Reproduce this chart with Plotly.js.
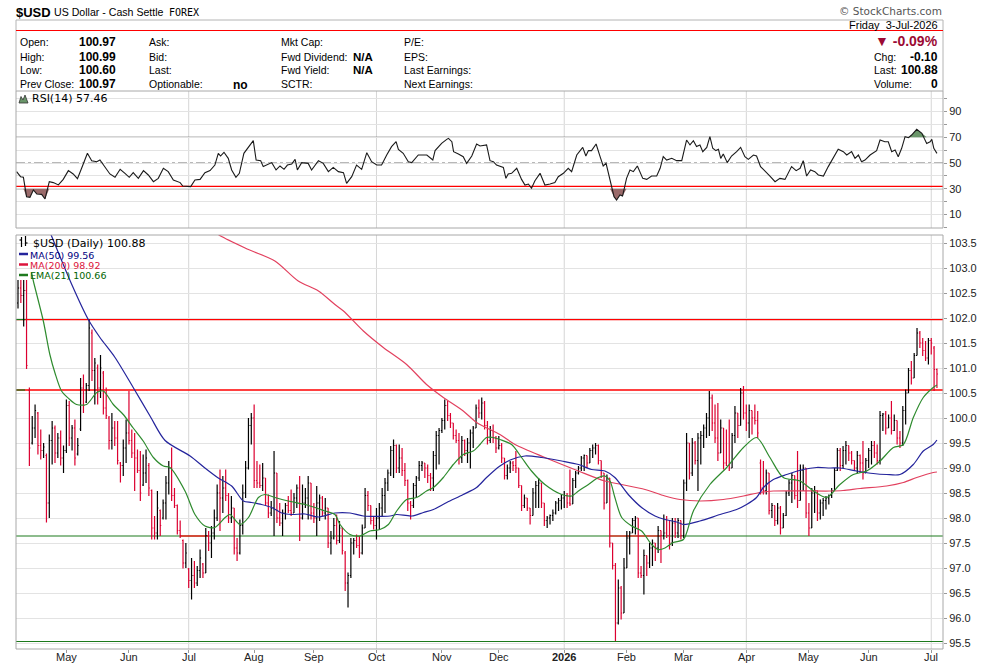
<!DOCTYPE html>
<html><head><meta charset="utf-8">
<script src="https://cdn.plot.ly/plotly-3.0.1.min.js"></script>
<style>html,body{margin:0;padding:0;background:#fff;}#chart{width:990px;height:664px;}</style>
</head><body><div id="chart"></div>
<script>
// ---------------- DATA ----------------
const firstDate = '2025-04-08';   // first trading day shown (weekdays only)
const symbol = '$USD';
const opens = [
102.30,102.60,102.45,102.55,100.55,99.50,99.80,100.10,99.45,99.35,
99.25,98.30,99.55,99.80,99.30,99.60,99.20,99.35,100.25,99.60,
99.80,99.28,99.78,100.60,100.32,100.65,101.70,100.95,101.00,100.60,
100.90,100.20,100.00,99.55,99.80,99.60,99.10,99.05,99.40,99.70,
99.55,99.30,99.20,98.95,98.66,98.90,99.05,98.55,97.80,97.70,
98.15,98.00,98.30,98.70,99.00,98.45,98.25,97.75,97.55,97.10,
96.98,96.75,96.85,96.70,96.95,97.08,96.90,97.65,97.50,97.70,
98.00,98.50,98.40,98.60,98.45,98.00,98.20,97.40,97.30,97.85,
98.50,99.00,99.85,100.00,98.75,98.70,98.65,98.80,98.30,98.10,
98.20,98.90,98.00,97.90,98.10,98.25,98.15,98.10,98.40,98.60,
98.00,98.30,98.40,98.70,98.10,98.00,98.30,98.40,98.10,98.20,
97.50,97.60,97.85,97.55,97.80,97.30,96.70,96.85,97.50,97.55,
97.45,97.30,97.80,98.45,98.25,97.95,97.85,98.00,98.20,98.45,
98.70,98.90,99.35,99.45,99.00,99.20,98.95,98.75,98.30,98.25,
98.65,98.80,99.05,99.10,99.00,98.85,98.80,99.25,99.65,99.75,
99.95,100.25,100.05,99.90,99.65,99.55,99.20,99.55,99.35,99.50,
99.70,99.80,100.20,100.10,100.30,99.85,99.55,99.75,99.60,99.40,
99.45,99.20,98.85,99.00,99.10,99.05,99.00,98.65,98.25,98.40,
98.20,98.05,98.50,98.65,98.70,98.30,97.95,98.00,98.05,98.10,
98.30,98.35,98.40,98.45,98.30,98.28,98.75,98.90,99.00,99.20,
99.25,99.10,99.35,99.40,99.45,99.15,98.90,98.30,98.80,97.50,
97.05,95.90,96.60,96.10,97.00,97.60,97.70,97.95,98.00,96.90,
96.85,97.25,97.10,97.40,97.50,97.40,97.75,97.65,97.70,97.65,
97.50,97.90,97.70,97.95,97.65,98.70,99.50,98.90,99.50,99.15,
99.60,99.65,99.80,100.00,100.40,99.90,99.60,99.30,99.80,99.10,
99.05,99.00,99.65,100.10,99.85,100.50,100.10,99.90,100.15,100.00,
99.95,99.10,98.60,98.55,98.90,98.15,98.25,97.95,98.20,97.80,
98.05,98.50,98.70,98.85,98.45,98.35,98.95,99.00,98.10,97.80,
98.50,98.55,98.10,98.30,98.35,98.40,98.45,98.55,98.95,99.35,
99.05,99.35,99.45,99.30,99.15,99.00,99.25,99.10,98.90,99.15,
99.35,99.45,99.30,99.15,100.05,100.08,99.80,100.00,99.75,99.95,
99.60,99.50,100.15,100.50,100.95,100.80,101.25,101.70,101.50,101.35,
101.20,101.55,101.40,100.97];
const highs = [
102.76,102.76,102.76,102.76,100.61,100.04,100.27,100.12,99.77,99.50,
99.29,99.67,99.94,99.85,99.70,99.75,99.45,100.37,100.34,99.86,
99.97,99.60,100.80,100.87,100.70,101.97,101.77,101.20,101.07,101.26,
100.94,100.61,100.04,100.10,99.94,99.94,99.12,99.57,99.97,100.54,
99.77,99.70,99.37,99.34,99.27,99.37,99.10,98.57,98.04,98.54,
98.17,98.37,98.84,99.14,99.41,98.60,98.27,97.95,97.57,97.50,
97.00,97.20,97.14,97.04,97.37,97.10,97.80,97.74,97.84,98.17,
98.67,98.97,98.84,98.97,98.50,98.44,98.20,97.60,97.97,98.67,
99.14,100.00,100.10,100.27,99.14,99.07,99.10,98.80,98.47,98.34,
99.34,98.90,98.30,98.17,98.30,98.44,98.57,98.50,98.67,98.84,
98.67,98.60,98.84,98.70,98.30,98.64,98.47,98.44,98.40,98.20,
97.74,98.00,98.07,97.94,97.80,97.34,96.91,97.60,97.60,97.67,
97.64,97.87,98.60,98.54,98.25,98.04,98.20,98.30,98.60,98.80,
98.97,99.44,99.57,99.47,99.47,99.40,99.10,98.77,98.34,98.70,
98.84,99.14,99.14,99.10,99.07,98.90,99.34,99.74,99.80,100.00,
100.37,100.34,100.10,99.90,99.77,99.70,99.64,99.57,99.60,99.77,
99.84,100.27,100.37,100.41,100.34,99.94,99.84,99.87,99.64,99.64,
99.50,99.20,99.07,99.14,99.14,99.34,99.00,98.65,98.47,98.40,
98.20,98.60,98.74,98.80,98.70,98.30,98.04,98.07,98.17,98.34,
98.40,98.47,98.54,98.50,98.97,98.80,98.94,99.04,99.24,99.27,
99.25,99.40,99.47,99.50,99.47,99.15,98.90,98.87,98.80,97.50,
97.10,96.77,96.64,97.20,97.74,97.74,98.00,98.04,98.00,97.04,
97.37,97.25,97.50,97.57,97.50,97.84,97.75,98.07,98.04,97.94,
98.00,98.00,98.00,97.95,98.77,99.70,99.50,99.60,99.54,99.70,
99.74,99.87,100.10,100.54,100.47,100.27,100.30,99.97,99.80,99.77,
99.97,99.70,100.24,100.10,100.60,100.64,100.27,100.27,100.15,100.27,
100.14,99.17,99.14,98.97,98.90,98.30,98.25,98.30,98.24,98.10,
98.54,98.77,98.90,98.85,99.34,99.07,99.07,99.00,98.30,98.60,
98.64,98.55,98.37,98.40,98.44,98.47,98.60,99.00,99.40,99.40,
99.44,99.54,99.45,99.34,99.15,99.34,99.27,99.54,99.20,99.40,
99.54,99.54,99.47,100.14,100.10,100.14,100.07,100.34,100.07,99.95,
99.74,100.24,100.57,101.00,101.14,101.30,101.80,101.74,101.60,101.54,
101.60,101.60,101.44,100.99];
const lows = [
102.19,102.30,101.83,100.98,99.04,99.47,99.60,99.27,99.17,99.20,
97.91,98.00,99.07,99.10,99.20,99.05,98.90,99.30,99.44,99.35,
99.05,99.25,99.74,100.10,100.30,100.54,100.74,100.27,100.27,100.40,
100.07,99.98,99.37,99.37,99.44,99.07,98.71,98.84,99.10,99.47,
99.20,98.54,98.90,98.34,98.64,98.70,98.44,97.57,97.57,97.57,
97.64,97.97,97.97,98.47,98.34,98.20,97.67,97.60,96.99,97.00,
96.60,96.37,96.60,96.64,96.80,96.80,96.90,97.34,97.20,97.57,
97.94,97.74,98.10,98.34,97.90,97.90,97.27,97.14,97.27,97.67,
98.40,98.97,99.47,98.60,98.60,98.60,98.54,98.24,98.00,98.04,
97.64,97.90,97.84,97.64,97.97,98.10,98.04,98.10,98.20,97.54,
97.97,98.20,97.97,97.97,97.90,97.64,97.94,98.04,97.97,97.40,
97.27,97.57,97.47,97.50,97.27,96.54,96.21,96.80,97.27,97.40,
97.20,97.27,97.80,98.14,97.87,97.77,97.57,97.77,98.04,98.10,
98.54,98.84,98.80,98.90,98.90,98.84,98.64,98.14,97.97,98.20,
98.40,98.74,98.94,98.80,98.70,98.54,98.54,98.97,99.07,99.70,
99.77,99.94,99.80,99.57,99.50,99.07,99.10,99.24,99.10,98.99,
99.40,99.80,100.00,99.97,99.77,99.47,99.50,99.50,99.30,99.37,
99.10,98.77,98.77,98.90,98.94,98.90,98.60,98.14,98.20,98.14,
97.87,98.05,98.20,98.20,98.20,97.84,97.80,97.87,97.94,98.07,
98.14,98.17,98.20,98.20,98.24,98.28,98.60,98.87,98.94,98.94,
99.00,99.10,99.20,99.27,99.07,98.80,98.17,98.30,97.41,96.97,
95.54,95.87,95.97,96.10,97.00,97.27,97.70,97.67,96.80,96.80,
96.47,96.84,97.00,97.04,97.14,97.30,97.10,97.57,97.60,97.37,
97.44,97.60,97.60,97.57,97.60,98.54,98.77,98.84,99.07,98.54,
99.07,99.40,99.60,99.64,99.74,99.50,99.14,99.30,98.97,99.04,
98.94,99.00,99.50,99.60,99.85,99.97,99.74,99.60,99.67,99.87,
99.60,98.47,98.47,98.47,98.07,98.00,97.84,97.87,97.67,97.80,
98.04,98.44,98.30,98.37,98.20,98.35,98.54,98.00,97.64,97.80,
98.10,97.94,97.97,98.04,98.17,98.27,98.40,98.55,98.94,98.94,
99.00,99.07,99.14,99.07,98.94,98.90,98.90,98.77,98.90,99.00,
99.07,99.20,99.07,99.07,99.74,99.67,99.80,99.67,99.74,99.47,
99.40,99.44,99.87,100.50,100.67,100.80,101.25,101.40,101.24,101.14,
101.07,101.27,100.54,100.60];
const closes = [
102.60,102.45,102.55,101.05,99.40,99.80,100.15,99.45,99.35,99.42,
98.30,99.55,99.80,99.30,99.60,99.20,99.35,100.25,99.60,99.80,
99.20,99.45,100.60,100.25,100.65,101.80,100.95,101.10,100.60,101.00,
100.20,100.05,99.55,99.80,99.60,99.15,99.05,99.40,99.70,99.55,
99.30,99.20,98.95,98.50,98.90,99.20,98.60,97.80,97.70,98.20,
97.85,98.30,98.70,99.00,98.45,98.25,97.75,97.65,97.10,97.30,
96.75,96.85,96.70,96.95,97.20,96.90,97.65,97.50,97.70,98.00,
98.50,98.40,98.60,98.45,98.00,98.20,97.40,97.30,97.85,98.50,
99.00,99.85,100.00,98.75,98.70,98.65,98.80,98.30,98.10,98.20,
98.90,98.00,97.90,98.10,98.25,98.15,98.10,98.40,98.60,98.00,
98.30,98.40,98.70,98.10,98.00,98.30,98.40,98.10,98.20,97.50,
97.60,97.85,97.55,97.80,97.35,96.70,96.85,97.50,97.55,97.45,
97.30,97.80,98.45,98.25,97.95,97.85,98.00,98.20,98.45,98.70,
98.90,99.35,99.45,99.00,99.20,98.95,98.75,98.30,98.25,98.65,
98.80,99.05,99.10,99.00,98.85,98.80,99.25,99.65,99.75,99.95,
100.25,100.05,99.90,99.65,99.55,99.20,99.55,99.35,99.50,99.70,
99.80,100.20,100.10,100.30,99.85,99.55,99.75,99.60,99.40,99.45,
99.20,98.85,99.00,99.10,99.05,99.00,98.65,98.25,98.40,98.20,
98.05,98.50,98.65,98.70,98.30,97.95,98.00,98.05,98.10,98.30,
98.35,98.40,98.45,98.30,98.28,98.75,98.90,99.00,99.20,99.25,
99.10,99.35,99.40,99.45,99.15,98.90,98.30,98.80,97.50,97.05,
95.90,96.60,96.10,97.00,97.60,97.70,97.95,98.00,96.90,96.85,
97.25,97.10,97.40,97.50,97.40,97.75,97.65,97.70,97.65,97.50,
97.90,97.70,97.95,97.65,98.70,99.50,98.90,99.50,99.15,99.60,
99.65,99.80,100.00,100.40,99.90,99.60,99.30,99.80,99.10,99.05,
99.00,99.65,100.10,99.85,100.50,100.10,99.90,100.15,100.00,99.95,
99.70,98.60,98.55,98.90,98.15,98.25,97.95,98.20,97.80,98.05,
98.50,98.70,98.85,98.45,98.35,98.95,99.00,98.10,97.80,98.50,
98.55,98.10,98.30,98.35,98.40,98.45,98.55,98.95,99.35,99.05,
99.35,99.45,99.30,99.15,99.00,99.25,99.10,98.90,99.15,99.35,
99.45,99.30,99.15,100.05,100.08,99.80,100.00,99.75,99.95,99.60,
99.50,100.15,100.50,100.95,100.80,101.25,101.70,101.50,101.35,101.20,
101.55,101.50,100.97,100.88];

// Moving averages (bar position, value)
const ma50X = [11,18.9,24.7,28.8,34.1,40.5,46.4,51.7,60.5,65.7,70.4,75.1,79.2,82.1,85.6,89.2,92.7,96.2,100.9,105.6,111.4,116.7,121.4,130.8,133.1,138.4,142.5,146,150.7,156.5,161.2,164.7,169.4,173,178.2,184.1,191.1,197,201.6,206.3,209.8,214.5,219.2,223.9,227.4,231.5,233.9,239.7,246.8,252.6,256.1,259.6,262,265.5,270.2,276,280.7,285.4,288.9,294.8,300.6,305.3,310,314.7,318.2,321.7,323];
const ma50V = [103.75,102.67,101.97,101.61,101.21,100.61,100.04,99.55,99.24,99.0,98.8,98.64,98.34,98.31,98.27,98.21,98.1,98.07,98.08,98.02,98.10,98.10,98.04,98.04,98.07,98.04,98.11,98.17,98.31,98.47,98.61,98.81,99.04,99.16,99.24,99.21,99.14,99.07,98.97,98.94,98.81,98.47,98.21,98.04,97.97,97.92,97.87,97.94,98.07,98.17,98.27,98.41,98.61,98.77,98.87,98.97,99.01,99.0,99.0,98.94,98.89,98.87,98.87,99.07,99.34,99.47,99.56];
const ma200X = [68,70.4,81,90.3,98.5,105.6,111.4,114.4,121.4,128.4,136.6,143.6,149.5,156.5,161.2,169.4,174.7,185.2,197,206.3,212.2,220.4,227.4,232.7,239.7,247.9,255,260.8,265.5,285.4,290,296,305.3,311.2,315.9,321.7,323];
const ma200V = [103.8,103.67,103.37,103.14,102.74,102.54,102.27,102.14,101.74,101.41,101.07,100.67,100.41,100.14,99.91,99.67,99.47,99.21,98.94,98.74,98.67,98.57,98.44,98.37,98.34,98.37,98.44,98.51,98.54,98.54,98.55,98.59,98.64,98.71,98.81,98.91,98.92];
const ema21X = [4.8,5.4,8.9,11.2,13,15.3,18,20.6,24.1,27.7,30,33.5,37,40.5,44,47.6,51.1,53.4,58.7,62.2,65.7,69.2,72.8,74.5,78,81,84.5,86.8,90.3,95,100.9,104.4,107.9,111.4,113.2,116.7,120.2,123.7,127.2,130.2,133.1,136.6,140.1,143.6,146,149.5,153,156.5,160,162.4,164.7,167.1,169.4,173.5,177,180.5,185.2,191.1,194.6,197,200.5,204,206.3,208.1,209.8,212.2,215.7,219.2,222.7,225.1,227.4,230.3,233.9,237.4,243.2,249.1,255,259.6,264.3,269,274.9,279.6,284.2,288.9,293.6,298.3,303,307.7,311.2,314.7,318.2,321.7,323];
const ema21V = [102.9,102.74,101.94,101.27,100.9,100.54,100.38,100.27,100.27,100.51,100.54,100.27,100.07,99.8,99.54,99.21,99.04,99.01,98.54,98.07,97.84,97.81,98.01,98.07,97.87,98.01,98.41,98.47,98.41,98.34,98.27,98.21,98.14,98.07,97.87,97.67,97.64,97.74,97.77,97.87,98.14,98.37,98.41,98.54,98.61,98.81,99.07,99.27,99.34,99.47,99.61,99.61,99.57,99.47,99.21,98.94,98.67,98.47,98.44,98.54,98.67,98.81,98.84,98.74,98.41,98.01,97.84,97.74,97.47,97.37,97.40,97.51,97.57,98.14,98.67,99.01,99.41,99.61,99.21,98.81,98.74,98.54,98.41,98.67,98.87,98.94,99.14,99.41,99.47,100.01,100.41,100.61,100.66];

// RSI(14) (bar position, value)
const rsiX = [-0.5,0.9,1.9,3.0,4.2,5.4,6.6,8.3,9.5,11,12.4,14.2,15.9,17.7,19.4,20.9,22.7,24.4,25.9,27.7,28.8,31.2,32.3,34.1,35.9,37.6,39.1,40.5,42.3,44.1,45.8,47.6,49.3,51.1,52.8,54.6,57,57.9,59.3,60.7,62.2,64,65.7,67.5,69.2,70.4,71.2,72.4,73.9,75.1,76.6,77.8,79.4,80.9,82.7,83.7,85.3,86.2,87.4,89.2,90.7,92.1,93.5,94.7,96.2,97.4,98.2,99.7,102,103.2,105.6,107.3,109.1,110.8,112.6,114.4,115.5,117.3,119,120.8,122.6,124.3,126.1,127.8,129.6,131.3,132.9,133.7,135.4,137.2,138.4,140.7,143.7,145.8,146.6,148.9,150.7,151.3,152.5,153.1,154.8,156.5,157.7,159.5,161.2,162.4,164.7,165.9,167.1,168.2,170.6,171.5,172.3,173.5,175.3,177,178.2,179.4,180.5,181.7,183.5,185.2,187,188.7,189.9,191.7,193.4,194.6,196.4,198.5,199.6,200.5,201.6,203.2,204.6,205.7,206.7,208.1,209.5,210.4,211.6,212.5,213.9,215.1,216.3,217.7,219.6,221,222.7,224.5,225.7,226.8,228,229.8,231.5,233.3,235,236.2,237.4,238.5,239.7,240.7,242.1,243.2,244.2,245.3,246.2,247,247.9,249.3,250.8,252.6,254,255.5,256.7,258.5,259.6,261,262.9,264.3,266.1,267.8,269.6,270.8,271.9,273.5,274.9,276,277.2,278.6,280.1,281.3,283.1,284.8,286.6,288.3,290.1,291.3,293,294.2,295.4,296.5,297.7,299.5,301.8,303,304.7,305.9,307.1,308.3,309.4,310.6,311.8,313,314.1,315.9,317.7,319.4,320.6,321.2,321.9,322.5,323];
const rsiV = [43.3,39.4,38.9,23.9,23.4,29.1,26,25.7,22.1,35.5,34.8,33,37.3,44.1,41.5,37.9,47.9,57.5,51.8,51,52.3,44.6,41.5,38.9,45.1,42,38.9,42.5,38.1,44.1,40.7,35.5,38.1,45.9,43.3,36.8,34.8,32.2,31.7,31.7,36.8,37.3,42.5,44.1,48.4,57.5,55.4,58.3,53.6,44.6,38.9,42,57.5,62.1,67.3,52.3,51.8,47.2,48.4,50.3,44.6,47.7,45.1,48.4,49.2,52.8,44.6,50.3,49.7,44.6,51.8,49.7,43.3,46.6,43.3,42.5,34.2,39.4,48.4,45.1,58,51,48.4,48.4,56.2,62.7,66.5,60.6,57.5,51,50.3,56.2,56.2,52.3,59.6,65.2,68.3,69.1,66.5,58.8,57,54.9,49.7,55.4,64.7,63.2,64,51.8,51,48.4,46.6,38.1,41.5,42,45.9,37.3,32.9,33.7,30.4,36.3,42,32.9,33.7,34.8,39.4,42,45.9,43.3,56.2,62.1,55.4,59.6,59.6,64.7,54.9,47.7,49.7,36.8,23.9,21.3,25.2,24.4,38.1,44.6,43.3,47.7,38.1,37.3,39.9,39.9,45.9,54.9,52.3,53.6,51.8,51.8,67.8,64,67.3,62.7,64,58.8,62.1,70.4,61.4,59.6,60.6,53.6,57,50.3,55.4,58.8,62.1,54.9,52.8,56.2,55.4,47.2,42.5,39.9,35.5,38.1,37.3,42.5,47.2,44.1,45.9,51.8,39.9,44.6,43.3,40.7,39.9,47.2,53.6,60.6,58.8,56.2,58.8,53.6,56.2,51,52.3,56.2,59.6,67.8,66.5,66.5,58.8,60.1,54.9,61.4,70.4,69.6,71.7,76.1,73,65.2,66.5,68.3,61.4,58.8,57.46];
const rsiOverbought = 70, rsiOversold = 30, rsiMid = 50, rsiAlert = 31.8;

// Horizontal price levels drawn on the chart
const redLevels = [101.97, 100.56];
const greenLevels = [97.64, 95.53, 95.49];
const greenMarks = [[101.97, -0.7, 2.5], [100.56, -0.7, 2.5]];   // [level, fromBar, toBar]
const redMarks = [[97.64, 57, 67], [97.64, 208, 226]];

// Header info
const infoLabels = [['Open:','High:','Low:','Prev Close:'],['Ask:','Bid:','Last:','Optionable:'],['Mkt Cap:','Fwd Dividend:','Fwd Yield:','SCTR:'],['P/E:','EPS:','Last Earnings:','Next Earnings:']];
const infoValues = ['100.97','100.99','100.60','100.97'];
const pctChange = '-0.09%', chg = '-0.10', lastPrice = '100.88', volume = '0';
const dateText = 'Friday  3-Jul-2026';

// ---------------- BUILD ----------------
const N = closes.length;
function tradingDays(start, n){const out=[];const d=new Date(start+'T00:00:00Z');while(out.length<n){const w=d.getUTCDay();if(w!==0&&w!==6)out.push(new Date(d));d.setUTCDate(d.getUTCDate()+1);}return out;}
const dates = tradingDays(firstDate, N);
const MN = ['Jan','Feb','Mar','Apr','May','Jun','Jul','Aug','Sep','Oct','Nov','Dec'];
const monthTicks=[], monthText=[], quarterBars=[];
for(let i=1;i<N;i++){const m=dates[i].getUTCMonth();if(m!==dates[i-1].getUTCMonth()){monthTicks.push(i);monthText.push(m===0?'<b>'+dates[i].getUTCFullYear()+'</b>':MN[m]);if(m%3===0)quarterBars.push(i);}}

const up={x:[],o:[],h:[],l:[],c:[]}, dn={x:[],o:[],h:[],l:[],c:[]};
for(let i=0;i<N;i++){const prev=i>0?closes[i-1]:opens[i];const g=closes[i]>=prev?up:dn;g.x.push(i);g.o.push(opens[i]);g.h.push(highs[i]);g.l.push(lows[i]);g.c.push(closes[i]);}
function ohlc(g,color){return {type:'ohlc',x:g.x,open:g.o,high:g.h,low:g.l,close:g.c,xaxis:'x',yaxis:'y',increasing:{line:{color:color,width:1.2}},decreasing:{line:{color:color,width:1.2}},tickwidth:0.35,hoverinfo:'skip',showlegend:false};}

const C_UP='#000000', C_DN='#dc0030', C_MA50='#24249c', C_MA200='#e2405e', C_EMA='#2e8b2e';
const traces=[
 ohlc(up,C_UP), ohlc(dn,C_DN),
 {type:'scatter',mode:'lines',x:ma200X,y:ma200V,xaxis:'x',yaxis:'y',line:{color:C_MA200,width:1.2,shape:'spline',smoothing:0.8},hoverinfo:'skip'},
 {type:'scatter',mode:'lines',x:ma50X,y:ma50V,xaxis:'x',yaxis:'y',line:{color:C_MA50,width:1.2,shape:'spline',smoothing:0.8},hoverinfo:'skip'},
 {type:'scatter',mode:'lines',x:ema21X,y:ema21V,xaxis:'x',yaxis:'y',line:{color:C_EMA,width:1.2,shape:'spline',smoothing:0.8},hoverinfo:'skip'},
 {type:'scatter',mode:'lines',x:rsiX,y:rsiX.map(()=>rsiOversold),xaxis:'x',yaxis:'y2',line:{width:0},hoverinfo:'skip'},
 {type:'scatter',mode:'lines',x:rsiX,y:rsiV.map(v=>Math.min(v,rsiOversold)),xaxis:'x',yaxis:'y2',line:{width:0},fill:'tonexty',fillcolor:'#9a6a6a',hoverinfo:'skip'},
 {type:'scatter',mode:'lines',x:rsiX,y:rsiX.map(()=>rsiOverbought),xaxis:'x',yaxis:'y2',line:{width:0},hoverinfo:'skip'},
 {type:'scatter',mode:'lines',x:rsiX,y:rsiV.map(v=>Math.max(v,rsiOverbought)),xaxis:'x',yaxis:'y2',line:{width:0},fill:'tonexty',fillcolor:'#6a966a',hoverinfo:'skip'},
 {type:'scatter',mode:'lines',x:rsiX,y:rsiV,xaxis:'x',yaxis:'y2',line:{color:'#1a1a1a',width:1.1},hoverinfo:'skip'}
];

// pixel -> paper helpers
const W=990,H=664,ML=16,MR=47,MT=91,MB=15,PW=W-ML-MR,PH=H-MT-MB;
const X=p=>(p-ML)/PW, Y=p=>(H-MB-p)/PH;

const shapes=[];
const hline=(y0,ref,color,w,dash,x0,x1,xref,layer)=>({type:'line',xref:xref||'x domain',x0:x0===undefined?0:x0,x1:x1===undefined?1:x1,yref:ref,y0:y0,y1:y0,line:{color:color,width:w,dash:dash||'solid'},layer:layer||'below'});
quarterBars.forEach(q=>{['y domain','y2 domain'].forEach(r=>shapes.push({type:'line',xref:'x',x0:q,x1:q,yref:r,y0:0,y1:1,line:{color:'#d6d6d6',width:1},layer:'below'}));});
redLevels.forEach(v=>shapes.push(hline(v,'y','#ff0000',1.3)));
greenLevels.forEach(v=>shapes.push(hline(v,'y','#1c7a1c',1.1)));
greenMarks.forEach(m=>shapes.push(hline(m[0],'y','#1c7a1c',1.3,'solid',m[1],m[2],'x')));
redMarks.forEach(m=>shapes.push(hline(m[0],'y','#ff0000',1.2,'solid',m[1],m[2],'x')));
shapes.push(hline(rsiOverbought,'y2','#707070',1));
shapes.push(hline(rsiOversold,'y2','#707070',1));
shapes.push(hline(rsiMid,'y2','#707070',1,'dashdot'));
shapes.push(hline(rsiAlert,'y2','#ff0000',1.2));
shapes.push({type:'rect',xref:'x domain',yref:'y domain',x0:0,x1:1,y0:0,y1:1,line:{color:'#a8a8a8',width:1},layer:'above'});
shapes.push({type:'rect',xref:'x domain',yref:'y2 domain',x0:0,x1:1,y0:0,y1:1,line:{color:'#a8a8a8',width:1},layer:'above'});
const pl=(x0,y0,x1,y1,c,w)=>({type:'line',xref:'paper',yref:'paper',x0:X(x0),x1:X(x1),y0:Y(y0),y1:Y(y1),line:{color:c,width:w||1}});
shapes.push(pl(16,20,943,20,'#b4b4b4'));
shapes.push(pl(16,20,16,91,'#b4b4b4'));
shapes.push(pl(943,20,943,91,'#b4b4b4'));
shapes.push(pl(16,30.5,943,30.5,'#ff0000',1.2));
shapes.push(pl(19,254,28,254,C_MA50,2.5));
shapes.push(pl(19,264.5,28,264.5,'#dc143c',2.5));
shapes.push(pl(19,275,28,275,'#1f7a1f',2.5));
shapes.push(pl(21.5,237,21.5,247,'#000',1.2));
shapes.push(pl(19.5,240,21.5,240,'#000',1.2));
shapes.push(pl(25.5,236,25.5,246,'#000',1.2));
shapes.push(pl(25.5,243,27.5,243,'#000',1.2));
const mtn=[[19,103],[21,96.5],[23,100],[25,95],[28,103]];
shapes.push({type:'path',xref:'paper',yref:'paper',path:'M '+mtn.map(p=>X(p[0])+','+Y(p[1])).join(' L ')+' Z',fillcolor:'#6a966a',line:{color:'#333',width:0.8}});

const SANS='Liberation Sans, Arial, sans-serif', DV='DejaVu Sans, Verdana, sans-serif';
const ann=[];
const T=(x,y,text,o)=>{o=o||{};ann.push({xref:'paper',yref:'paper',x:X(x),y:Y(y),text:text,showarrow:false,xanchor:o.xa||'left',yanchor:'middle',borderpad:0,font:{family:o.f||SANS,size:o.s||10.5,color:o.c||'#000'}});};
T(15,12,'<b>'+symbol+'</b>',{s:13});
T(53,12.5,'US Dollar - Cash Settle',{s:10.6});
T(168,13,'FOREX',{f:'DejaVu Sans Mono, monospace',s:10});
T(943,11.5,'© StockCharts.com',{xa:'right',s:10.5,c:'#555',f:DV});
T(939,25,dateText,{xa:'right',s:11});
const colX=[19,148,280,403], rowY=[42.5,56.5,70.5,84];
infoLabels.forEach((col,ci)=>col.forEach((t,ri)=>T(colX[ci],rowY[ri],t)));
infoValues.forEach((v,ri)=>T(78,rowY[ri],'<b>'+v+'</b>',{s:12}));
T(232,rowY[3]+1,'<b>no</b>',{s:12});
T(352,rowY[1],'<b>N/A</b>',{s:11.5});
T(352,rowY[2],'<b>N/A</b>',{s:11.5});
T(939,41,'<b>▼ '+pctChange+'</b>',{xa:'right',s:14,c:'#9b0a34'});
T(873,rowY[1],'Chg:'); T(939,rowY[1],'<b>'+chg+'</b>',{xa:'right',s:12});
T(873,rowY[2],'Last:'); T(939,rowY[2],'<b>'+lastPrice+'</b>',{xa:'right',s:12});
T(873,rowY[3],'Volume:'); T(939,rowY[3],'<b>'+volume+'</b>',{xa:'right',s:12});
T(31,98.5,'RSI(14) '+rsiV[rsiV.length-1].toFixed(2),{f:DV,s:11});
T(31.5,243,symbol+' (Daily) '+closes[N-1].toFixed(2),{f:DV,s:11});
T(29,255,'MA(50) '+ma50V[ma50V.length-1].toFixed(2),{f:DV,s:9.5,c:'#000080'});
T(29,265,'MA(200) '+ma200V[ma200V.length-1].toFixed(2),{f:DV,s:9.5,c:'#dc143c'});
T(29,275.5,'EMA(21) '+ema21V[ema21V.length-1].toFixed(2),{f:DV,s:9.5,c:'#006400'});
monthTicks.forEach((t,k)=>ann.push({xref:'x',yref:'paper',x:t,y:Y(656.5),text:monthText[k],showarrow:false,xanchor:'center',yanchor:'middle',borderpad:0,font:{family:SANS,size:11,color:'#222'}}));

const layout={
 width:W,height:H,margin:{l:ML,r:MR,t:MT,b:MB,pad:0},paper_bgcolor:'#fff',plot_bgcolor:'#fff',
 showlegend:false,hovermode:false,dragmode:false,
 xaxis:{range:[(ML-18)/2.845,(W-MR-18)/2.845],anchor:'y',tickmode:'array',tickvals:monthTicks,showticklabels:false,
   showgrid:false,zeroline:false,showline:false,ticks:'outside',ticklen:3,tickcolor:'#999',
   rangeslider:{visible:false},fixedrange:true},
 yaxis:{domain:[0,Y(235)],range:[95.38,103.66],side:'right',anchor:'x',tick0:95.5,dtick:0.5,tickformat:'.1f',
   gridcolor:'#e3e3e3',gridwidth:1,zeroline:false,showline:false,ticks:'outside',ticklen:3,tickcolor:'#999',
   tickfont:{family:SANS,size:11,color:'#222'},fixedrange:true},
 yaxis2:{domain:[Y(228),1],range:[-0.39,105.81],side:'right',anchor:'x',tickmode:'array',
   tickvals:[0,10,20,30,40,50,60,70,80,90,100],ticktext:['','10','','30','','50','','70','','90',''],
   gridcolor:'#e3e3e3',zeroline:false,showline:false,ticks:'outside',ticklen:3,tickcolor:'#999',
   tickfont:{family:SANS,size:11,color:'#222'},fixedrange:true},
 shapes:shapes,annotations:ann
};
Plotly.newPlot('chart',traces,layout,{displayModeBar:false,staticPlot:true});
</script></body></html>
